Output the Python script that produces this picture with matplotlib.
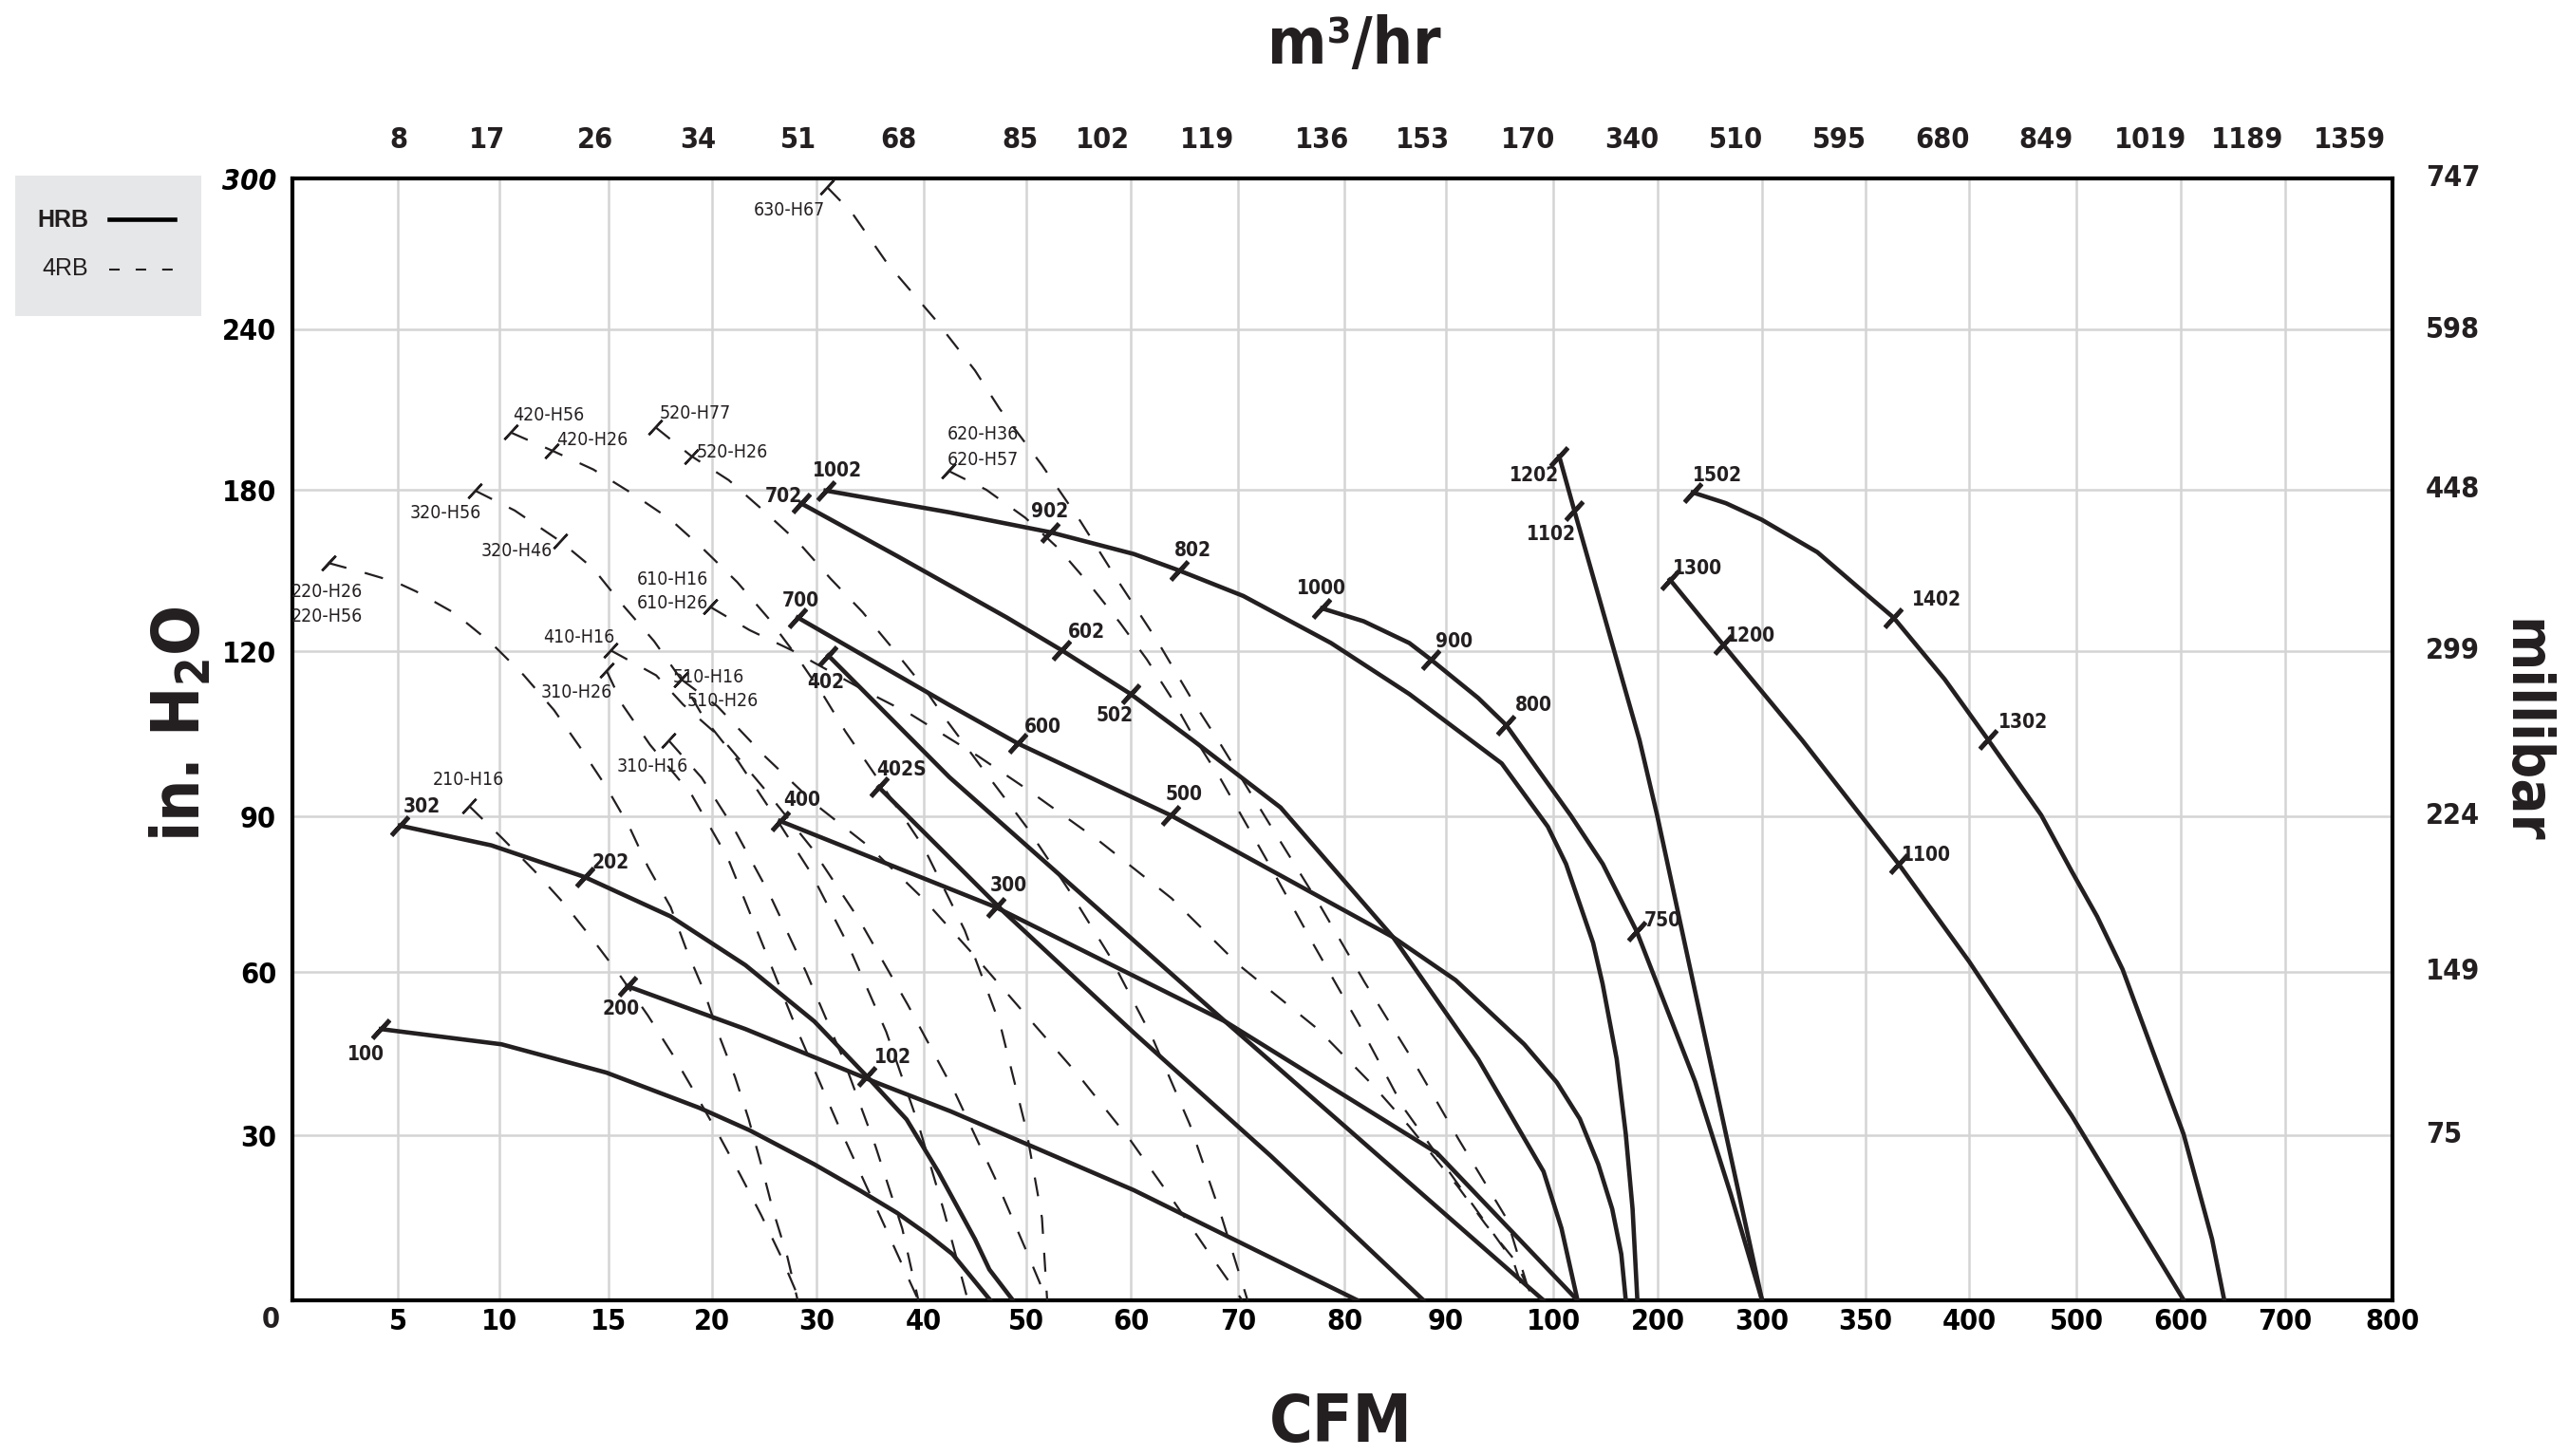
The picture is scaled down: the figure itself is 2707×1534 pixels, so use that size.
import numpy as np
import matplotlib.pyplot as plt
from matplotlib import font_manager
from matplotlib.lines import Line2D
from matplotlib.patches import Rectangle

# ---- axis values (both axes are stretched piecewise, equal spacing per tick) ----
cfm_ticks = [0, 5, 10, 15, 20, 30, 40, 50, 60, 70, 80, 90, 100, 200, 300, 350, 400, 500, 600, 700, 800]
m3hr_labels = ['8', '17', '26', '34', '51', '68', '85', '102', '119', '136', '153', '170',
               '340', '510', '595', '680', '849', '1019', '1189', '1359']
inh2o_ticks = [0, 30, 60, 90, 120, 180, 240, 300]
mbar_labels = ['75', '149', '224', '299', '448', '598', '747']

# ---- HRB curves (solid): CFM, in. H2O ----
c100_x = [4.2, 10.1, 14.9, 19.4, 23.6, 29.8, 34.1, 37.5, 40.5, 42.8, 46.5]
c100_y = [49.5, 46.7, 41.5, 35.0, 30.9, 24.7, 19.9, 15.9, 11.8, 8.4, 0]
c302_x = [5.1, 9.6, 13.9, 18.0, 23.2, 29.8, 34.7, 38.4, 41.4, 45.0, 46.4, 48.7]
c302_y = [88.2, 84.4, 78.3, 70.7, 61.3, 50.9, 40.8, 32.9, 23.4, 11.1, 5.6, 0]
c200_x = [15.9, 23.2, 35.8, 42.6, 60.3, 81.3]
c200_y = [57.4, 49.5, 39.5, 34.4, 20.0, 0]
c400_x = [26.5, 47.0, 68.8, 89.1, 123.3]
c400_y = [89.1, 72.5, 50.9, 26.8, 0]
c402s_x = [35.8, 47.9, 60.3, 73.1, 87.8]
c402s_y = [95.3, 71.4, 48.8, 26.2, 0]
c402_x = [31.1, 42.5, 68.8, 99.1]
c402_y = [119.2, 97.1, 50.9, 0]
c700_x = [28.2, 42.5, 49.2, 63.7, 84.8, 90.9, 97.3, 103.5, 125.5, 143.2, 156.5, 165.2, 169.5]
c700_y = [132.5, 110.2, 103.2, 90.2, 66.7, 58.5, 46.7, 39.7, 33.0, 24.7, 16.6, 8.4, 0]
c702_x = [28.5, 37.5, 48.1, 53.4, 60.0, 65.8, 74.0, 84.8, 93.0, 99.1, 107.9, 123.3]
c702_y = [175.0, 155.4, 132.5, 120.3, 112.2, 103.8, 91.6, 66.7, 44.0, 23.4, 13.1, 0]
c1002_x = [30.85, 42.5, 52.3, 60.3, 64.5, 70.5, 78.75, 86.4, 95.2, 99.5, 112.3, 138.2, 147.3, 160.8,
           169.5, 176, 180.6]
c1002_y = [179.7, 171.6, 164.2, 156.1, 150.0, 140.5, 123, 112.2, 99.6, 88.0, 80.8, 65.6, 57.8, 44,
           30.2, 16.6, 0]
c1000_x = [77.9, 81.9, 86.4, 88.5, 93.0, 95.6, 98.6, 116.6, 147.5, 180, 236, 270, 300]
c1000_y = [135.9, 131.1, 123.0, 118.5, 111.5, 106.6, 98.4, 90.2, 80.8, 67.8, 39.8, 19.3, 0]
c1202_x = [105.7, 120.2, 182.7, 199.5, 231.3, 265.4, 300]
c1202_y = [192.6, 172.3, 103.8, 90.2, 60.5, 30.2, 0]
c1300_x = [211.7, 262.9, 319.4, 366, 400.1, 495.7, 603]
c1300_y = [146.6, 122.3, 103.8, 80.8, 62.0, 33.6, 0]
c1502_x = [233.6, 265.4, 299.5, 326.7, 351.3, 363.5, 388.2, 417.4, 467.3, 495.7, 519.9, 544.3,
           573.5, 602.7, 617.3, 630.0, 641.7]
c1502_y = [179.0, 175.0, 168.9, 156.8, 140.5, 132.5, 114.9, 104.0, 90.2, 79.4, 70.7, 60.5,
           45.3, 30.2, 20.0, 11.1, 0]

# ---- 4RB curves (dashed) ----
d630_x = [31.0, 33.3, 36.6, 41.0, 45.0, 47.4, 51.5, 55.2, 58.7, 62.4, 65.8, 68.4, 73.0, 77.6, 82.0, 86.8, 91.2, 95.7, 98.0]
d630_y = [296.5, 286.4, 266.2, 244.5, 224.6, 210.3, 189.2, 168.2, 146.6, 124.3, 110.9, 103.0, 88.4, 73.2, 58.1, 43.6, 29.2, 14.7, 0]
d620_x = [42.4, 46.1, 49.9, 53.1, 56.1, 59.0, 61.5, 63.9, 65.6, 68.4, 72.8, 77.1, 81.5, 85.8, 91.2, 96.3, 97.5]
d620_y = [187.1, 180.0, 169.6, 158.1, 144.6, 130.4, 118.5, 111.2, 105.3, 96.7, 81.2, 65.3, 50.2, 35.1, 20.9, 7.0, 0]
d610_x = [19.9, 23.6, 27.6, 34.7, 38.8, 45.4, 50.0, 57.0, 63.8, 70.1, 77.5, 82.8, 86.4, 91.1, 93.7, 96.5, 98.2]
d610_y = [136.5, 127.8, 120.4, 112.6, 108.5, 100.8, 95.0, 85.2, 74.2, 61.3, 49.5, 39.2, 31.6, 20.7, 13.8, 7.1, 0]
d520_x = [17.25, 19.0, 21.6, 25.0, 28.4, 31.3, 34.3, 37.1, 39.7, 42.2, 46, 50, 54, 58, 62, 65.5, 68.5, 70.9]
d520_y = [203.5, 192.6, 183.6, 172.0, 159.9, 147.0, 134.5, 121.0, 114.2, 107.5, 98, 88, 76, 63, 48, 32, 15, 0]
d510_x = [18.5, 20.5, 25, 30, 35, 40, 45, 50, 55, 60, 64, 67.5, 70.4]
d510_y = [114.9, 110, 101, 92, 84, 74, 63, 52, 41, 29, 18, 8, 0]
d420_x = [10.5, 12.4, 14.3, 16.1, 18.0, 19.6, 22.4, 25.4, 28.1, 30.6, 32.7, 36, 40, 44, 47.5, 50, 51.5, 52]
d420_y = [201.5, 194.7, 187.6, 178.8, 168.9, 157.8, 145.7, 132.2, 119.1, 112.1, 105.4, 96, 84, 68, 50, 31, 15, 0]
d410_x = [15.1, 17.3, 18.6, 21, 25, 29.5, 34, 38.5, 43, 47, 50, 52]
d410_y = [120.3, 115.6, 110.3, 104, 95, 84, 70, 54, 38, 22, 9, 0]
d320_x = [8.8, 10.7, 12.8, 14.3, 15.6, 17.2, 18.5, 19.6, 22.5, 26, 29.5, 33, 36.5, 39.5, 42, 44.3]
d320_y = [179.7, 172.3, 160.8, 150.7, 137.9, 123.7, 114.9, 107.9, 100, 90, 79, 65, 49, 32, 16, 0]
d310a_x = [14.9, 15.7, 17, 19, 21.5, 24.5, 28, 32, 36, 39.5]
d310a_y = [116.5, 110.1, 103, 94, 82, 67, 50, 32, 15, 0]
d310b_x = [17.9, 19.5, 22, 25.5, 29, 32.5, 35.5, 38, 39.5]
d310b_y = [103.8, 97, 88, 75, 60, 44, 28, 13, 0]
d220_x = [1.7, 3.35, 4.9, 5.9, 7.8, 9.6, 11.1, 12.5, 13.7, 14.9, 16.0, 16.9, 18.0, 18.75, 19.6, 20.6, 22.2, 23.5, 24.7, 25.8, 27.2, 28.2]
d220_y = [152.8, 149.3, 145.7, 142.2, 134.1, 123.0, 115.7, 109.3, 102.5, 95.3, 88.0, 80.3, 72.5, 64.4, 56.6, 48.7, 40.7, 33.0, 24.7, 16.6, 8.0, 0]
d210_x = [8.5, 10.1, 11.6, 13.0, 14.3, 15.6, 16.9, 18.1, 19.2, 20.6, 22.7, 24.7, 26.6, 28.4]
d210_y = [91.9, 85.9, 79.5, 73.0, 66.1, 59.1, 52.0, 44.8, 37.6, 30.2, 22.8, 15.5, 8.0, 0]

# ---- model marks ----
hrb_names = ['100', '302', '202', '102', '200', '400', '300', '402S', '402', '700', '600', '500',
             '702', '602', '502', '1002', '902', '802', '1000', '900', '800', '750',
             '1202', '1102', '1300', '1200', '1100', '1502', '1402', '1302']
hrb_cfm = [4.2, 5.1, 13.9, 34.7, 15.9, 26.5, 47.0, 35.8, 31.1, 28.2, 49.2, 63.7,
           28.5, 53.4, 60.0, 30.85, 52.3, 64.5, 77.9, 88.5, 95.6, 180,
           105.7, 120.2, 211.7, 262.9, 366, 233.6, 363.5, 417.4]
hrb_inh2o = [49.5, 88.2, 78.3, 40.8, 57.4, 89.1, 72.5, 95.3, 119.2, 132.5, 103.2, 90.2,
             175.0, 120.3, 112.2, 179.7, 164.2, 150.0, 135.9, 118.5, 106.6, 67.8,
             192.6, 172.3, 146.6, 122.3, 80.8, 179.0, 132.5, 104.0]

rb4_names = ['630-H67', '620-H36', '620-H57', '520-H77', '520-H26', '420-H56', '420-H26',
             '320-H56', '320-H46', '220-H26', '220-H56', '610-H16', '610-H26', '410-H16',
             '310-H26', '510-H16', '510-H26', '310-H16', '210-H16']
rb4_cfm = [31.0, 42.4, 42.4, 17.25, 19.0, 10.5, 12.4, 8.8, 12.8, 1.7, 1.7, 19.9, 19.9, 15.1,
           14.9, 18.5, 18.5, 17.9, 8.5]
rb4_inh2o = [296.5, 187.1, 187.1, 203.5, 192.6, 201.5, 194.7, 179.7, 160.8, 152.8, 152.8, 136.5,
             136.5, 120.3, 116.5, 114.9, 114.9, 103.8, 91.9]

# ---- layout ----
x_pos = [0, 111.3, 218.3, 333.3, 442.3, 552.3, 665.3, 773.3, 883.3, 996.3, 1108.3, 1215.3,
         1328.3, 1438.3, 1548.3, 1657.3, 1766.3, 1879.3, 1989.3, 2099.3, 2212.3]
y_pos = [0, 174, 346, 510, 684, 854, 1023, 1182]
top_label_px = [420, 513, 627, 735, 841, 946, 1074, 1161, 1272, 1393, 1498, 1609,
                1719, 1829, 1937, 2046, 2155, 2265, 2367, 2475]
hrb_offsets = [(-11, -19), (17, 14), (19.5, 10.5), (19.5, 14.4), (-5, -17), (17, 16), (10, 16),
               (17.5, 13), (-2, -20.7), (2, 12.5), (19, 12.7), (10, 15.8),
               (-13, 5.5), (19, 13.8), (-12, -16.5), (8.7, 15.2), (-0.6, 15.7), (10.5, 15.1),
               (-0.6, 15), (17.4, 13.7), (21, 15), (19.4, 8.5),
               (-19, -15), (-17.4, -18), (21, 8.3), (21, 7), (21, 7), (19, 13), (32.7, 13.7), (27, 12.5)]
rb4_offsets = [(-28.7, -17.4), (26.6, 27.7), (26.6, 8.6), (30.5, 10.3), (30.7, 2.7), (28.7, 13.2),
               (30.4, 7.7), (-22.5, -17.3), (-33, -7), (-1, -21.8), (-1, -40.3), (-28.6, 20.7),
               (-28.6, 2.7), (-24.3, 9.6), (-22.7, -16.6), (21, 1.4), (31.4, -16.5), (-12, -19.9),
               (-0.6, 20)]

INK = '#231f20'
avail = {f.name for f in font_manager.fontManager.ttflist}
if 'Liberation Sans Narrow' in avail:
    COND = ['Liberation Sans Narrow', 'DejaVu Sans']
else:
    COND = ['DejaVu Sans']
plt.rcParams['font.family'] = COND
plt.rcParams['font.stretch'] = 'condensed'
plt.rcParams['text.color'] = INK


def fwd_x(v):
    return np.interp(v, cfm_ticks, x_pos)


def inv_x(u):
    return np.interp(u, x_pos, cfm_ticks)


def fwd_y(v):
    return np.interp(v, inh2o_ticks, y_pos)


def inv_y(u):
    return np.interp(u, y_pos, inh2o_ticks)


W, H = 2707, 1534
fig = plt.figure(figsize=(W / 100, H / 100), dpi=100)
ax = fig.add_axes([307.7 / W, (H - 1370) / H, 2212.3 / W, 1182 / H])
ax.set_xscale('function', functions=(fwd_x, inv_x))
ax.set_yscale('function', functions=(fwd_y, inv_y))
ax.set_xlim(0, 800)
ax.set_ylim(0, 300)

NUM = 22
ax.set_xticks(cfm_ticks)
ax.set_xticklabels([''] + [str(v) for v in cfm_ticks[1:]], fontsize=NUM, fontweight='bold')
ax.set_yticks(inh2o_ticks)
ax.set_yticklabels([''] + [str(v) for v in inh2o_ticks[1:]], fontsize=NUM, fontweight='bold')
ax.get_yticklabels()[-1].set_style('italic')
ax.tick_params(length=0)
ax.tick_params(axis='x', pad=6)
ax.tick_params(axis='y', pad=12)
ax.grid(color='#d4d4d4', lw=1.8)
ax.set_axisbelow(True)
for s in ax.spines.values():
    s.set_linewidth(3)
    s.set_color('black')

ax.annotate('0', (0, 0), xycoords='axes fraction', xytext=(-16, -15), textcoords='offset points',
            ha='center', va='center', fontsize=NUM, fontweight='bold')
for px, lab in zip(top_label_px, m3hr_labels):
    ax.annotate(lab, ((px - 307.7) / 2212.3, 1), xycoords='axes fraction', xytext=(0, 29.5),
                textcoords='offset points', ha='center', va='center', fontsize=NUM, fontweight='bold')
for v, lab in zip(inh2o_ticks[1:], mbar_labels):
    ax.annotate(lab, (1, v), xycoords=('axes fraction', 'data'), xytext=(25, 0),
                textcoords='offset points', ha='left', va='center', fontsize=NUM, fontweight='bold')

# curves
for xs, ys in [(c100_x, c100_y), (c302_x, c302_y), (c200_x, c200_y), (c400_x, c400_y),
               (c402s_x, c402s_y), (c402_x, c402_y), (c700_x, c700_y), (c702_x, c702_y),
               (c1002_x, c1002_y), (c1000_x, c1000_y), (c1202_x, c1202_y), (c1300_x, c1300_y),
               (c1502_x, c1502_y)]:
    ax.plot(xs, ys, color=INK, lw=3.3, zorder=4, solid_joinstyle='round')

for xs, ys in [(d630_x, d630_y), (d620_x, d620_y), (d610_x, d610_y), (d520_x, d520_y),
               (d510_x, d510_y), (d420_x, d420_y), (d410_x, d410_y), (d320_x, d320_y),
               (d310a_x, d310a_y), (d310b_x, d310b_y), (d220_x, d220_y), (d210_x, d210_y)]:
    ax.plot(xs, ys, color=INK, lw=1.6, dashes=(9, 9), zorder=3)

# start / model marks
ax.plot(hrb_cfm, hrb_inh2o, ls='none', marker=(2, 2, -43), ms=19, mew=3.3, color=INK, zorder=5)
ax.plot(rb4_cfm, rb4_inh2o, ls='none', marker=(2, 2, -43), ms=15, mew=1.7, color=INK, zorder=5,
        clip_on=False)

for name, x, y, off in zip(hrb_names, hrb_cfm, hrb_inh2o, hrb_offsets):
    ax.annotate(name, (x, y), xytext=off, textcoords='offset points', ha='center', va='center',
                fontsize=15, fontweight='bold', zorder=6)
for name, x, y, off in zip(rb4_names, rb4_cfm, rb4_inh2o, rb4_offsets):
    ax.annotate(name, (x, y), xytext=off, textcoords='offset points', ha='center', va='center',
                fontsize=14, zorder=6)

# axis titles
fig.text(1426 / W, 1 - 48 / H, 'm³/hr', ha='center', va='center', fontsize=48, fontweight='bold')
fig.text(1412 / W, 1 - 1499 / H, 'CFM', ha='center', va='center', fontsize=50, fontweight='bold')
fig.text(190 / W, 1 - 763 / H, r'in. H$_\mathbf{2}$O', ha='center', va='center', fontsize=50,
         fontweight='bold', rotation=90)
fig.text(2658 / W, 1 - 770 / H, 'millibar', ha='center', va='center', fontsize=44,
         fontweight='bold', rotation=270)

# legend box
fig.add_artist(Rectangle((16 / W, 1 - 333 / H), 196 / W, 148 / H, transform=fig.transFigure,
                         facecolor='#e6e7e8', edgecolor='none'))
fig.text(93 / W, 1 - 232 / H, 'HRB', ha='right', va='center', fontsize=18, fontweight='bold',
         family=['Liberation Sans', 'DejaVu Sans'], stretch='normal')
fig.text(93 / W, 1 - 283 / H, '4RB', ha='right', va='center', fontsize=18,
         family=['Liberation Sans', 'DejaVu Sans'], stretch='normal')
fig.add_artist(Line2D([115 / W, 184 / W], [1 - 231 / H, 1 - 231 / H], transform=fig.transFigure,
                      color='black', lw=3.3))
fig.add_artist(Line2D([115 / W, 184 / W], [1 - 284 / H, 1 - 284 / H], transform=fig.transFigure,
                      color=INK, lw=1.5, dashes=(5.3, 8.1)))

fig.savefig('out.png', dpi=100)
